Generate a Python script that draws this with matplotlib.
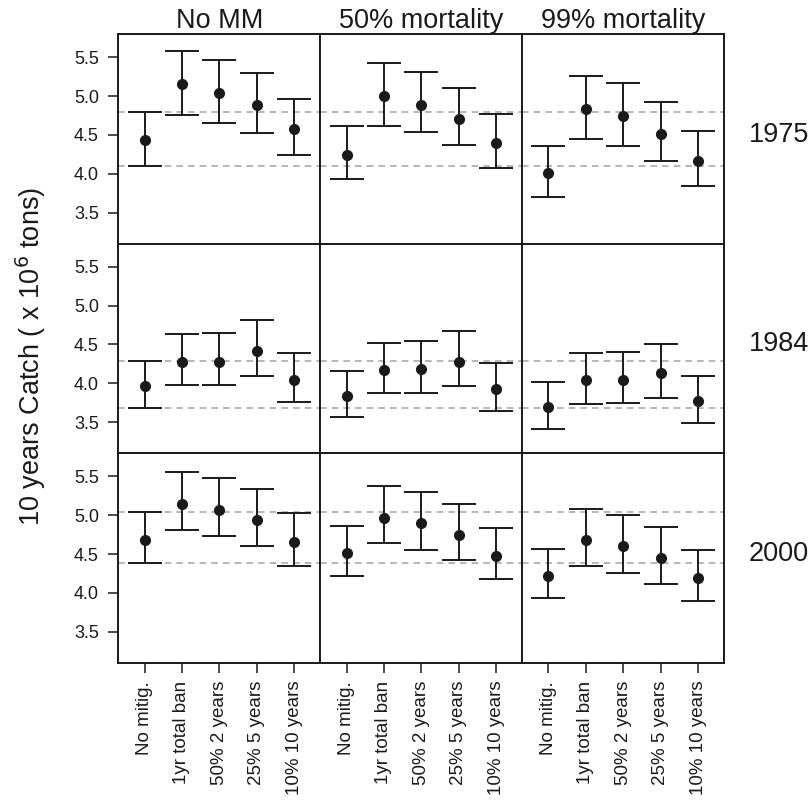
import numpy as np
import matplotlib
matplotlib.use("Agg")
import matplotlib.pyplot as plt

plt.rcParams['font.family'] = ['Liberation Sans', 'DejaVu Sans']

# scenarios along the x axis
scenarios = ["No mitig.", "1yr total ban", "50% 2 years", "25% 5 years", "10% 10 years"]
columns = ["No MM", "50% mortality", "99% mortality"]
years = ["1975", "1984", "2000"]

# mean catch, rows = years, cols = mortality level
mean = {
    "1975": [[4.43, 5.15, 5.04, 4.89, 4.58],
             [4.24, 5.00, 4.89, 4.71, 4.40],
             [4.01, 4.83, 4.74, 4.51, 4.17]],
    "1984": [[3.96, 4.28, 4.28, 4.42, 4.04],
             [3.84, 4.17, 4.18, 4.28, 3.92],
             [3.69, 4.04, 4.04, 4.13, 3.77]],
    "2000": [[4.68, 5.14, 5.07, 4.94, 4.65],
             [4.51, 4.97, 4.90, 4.75, 4.48],
             [4.22, 4.68, 4.61, 4.45, 4.19]],
}
upper = {
    "1975": [[4.79, 5.58, 5.46, 5.30, 4.96],
             [4.61, 5.43, 5.31, 5.11, 4.77],
             [4.36, 5.26, 5.17, 4.92, 4.55]],
    "1984": [[4.29, 4.64, 4.65, 4.81, 4.39],
             [4.16, 4.52, 4.54, 4.67, 4.26],
             [4.02, 4.39, 4.40, 4.50, 4.10]],
    "2000": [[5.04, 5.56, 5.48, 5.34, 5.03],
             [4.86, 5.38, 5.30, 5.15, 4.84],
             [4.57, 5.08, 5.00, 4.85, 4.55]],
}
lower = {
    "1975": [[4.10, 4.76, 4.65, 4.53, 4.24],
             [3.93, 4.62, 4.54, 4.37, 4.08],
             [3.70, 4.45, 4.36, 4.16, 3.84]],
    "1984": [[3.68, 3.98, 3.98, 4.10, 3.76],
             [3.56, 3.87, 3.88, 3.97, 3.64],
             [3.41, 3.73, 3.74, 3.81, 3.49]],
    "2000": [[4.39, 4.81, 4.73, 4.60, 4.35],
             [4.22, 4.64, 4.55, 4.42, 4.18],
             [3.93, 4.35, 4.26, 4.12, 3.90]],
}

x = np.arange(1, len(scenarios) + 1)
ink = '#1a1a1a'

fig, axes = plt.subplots(3, 3, figsize=(8.11, 8.0), dpi=100, sharex=True, sharey=True)
fig.subplots_adjust(left=0.146, right=0.893, top=0.9575, bottom=0.1716, wspace=0, hspace=0)

for r, yr in enumerate(years):
    # reference band = No MM / No mitig. interval
    ref_hi = upper[yr][0][0]
    ref_lo = lower[yr][0][0]
    for c in range(3):
        ax = axes[r, c]
        m = np.array(mean[yr][c])
        hi = np.array(upper[yr][c])
        lo = np.array(lower[yr][c])
        ax.axhline(ref_hi, color='#aaaaaa', ls=(0, (4, 3)), lw=1.2, zorder=1)
        ax.axhline(ref_lo, color='#aaaaaa', ls=(0, (4, 3)), lw=1.2, zorder=1)
        ax.errorbar(x, m, yerr=[m - lo, hi - m], fmt='o', color=ink,
                    ms=7, elinewidth=1.4, capsize=12.5, capthick=1.4, zorder=3)
        ax.set_xlim(0.3, 5.7)
        ax.set_ylim(3.1, 5.8)
        for s in ax.spines.values():
            s.set_linewidth(1.4)
            s.set_color(ink)
        ax.tick_params(direction='out', length=7, width=1.1, color=ink,
                       labelsize=13, labelcolor=ink)
        ax.tick_params(axis='y', pad=7)
        if c != 0:
            ax.tick_params(axis='y', left=False, labelleft=False)
        if r != 2:
            ax.tick_params(axis='x', bottom=False, labelbottom=False)
        if r == 0:
            ax.set_title(columns[c], fontsize=19.5, pad=1, color=ink)
        if c == 2:
            ax.text(1.12, 0.52, yr, transform=ax.transAxes, fontsize=19.5,
                    ha='left', va='center', color=ink)

axes[0, 0].set_yticks([3.5, 4.0, 4.5, 5.0, 5.5])
axes[0, 0].set_yticklabels(["3.5", "4.0", "4.5", "5.0", "5.5"])
for c in range(3):
    axes[2, c].set_xticks(x)
    axes[2, c].set_xticklabels(scenarios, rotation=90, fontsize=13.5)
    axes[2, c].tick_params(axis='x', pad=6)

fig.text(0.038, 0.554, "10 years Catch ( x 10$^{6}$ tons)", rotation=90,
         fontsize=19.5, ha='center', va='center', color=ink)

fig.savefig("out.png", dpi=100)
